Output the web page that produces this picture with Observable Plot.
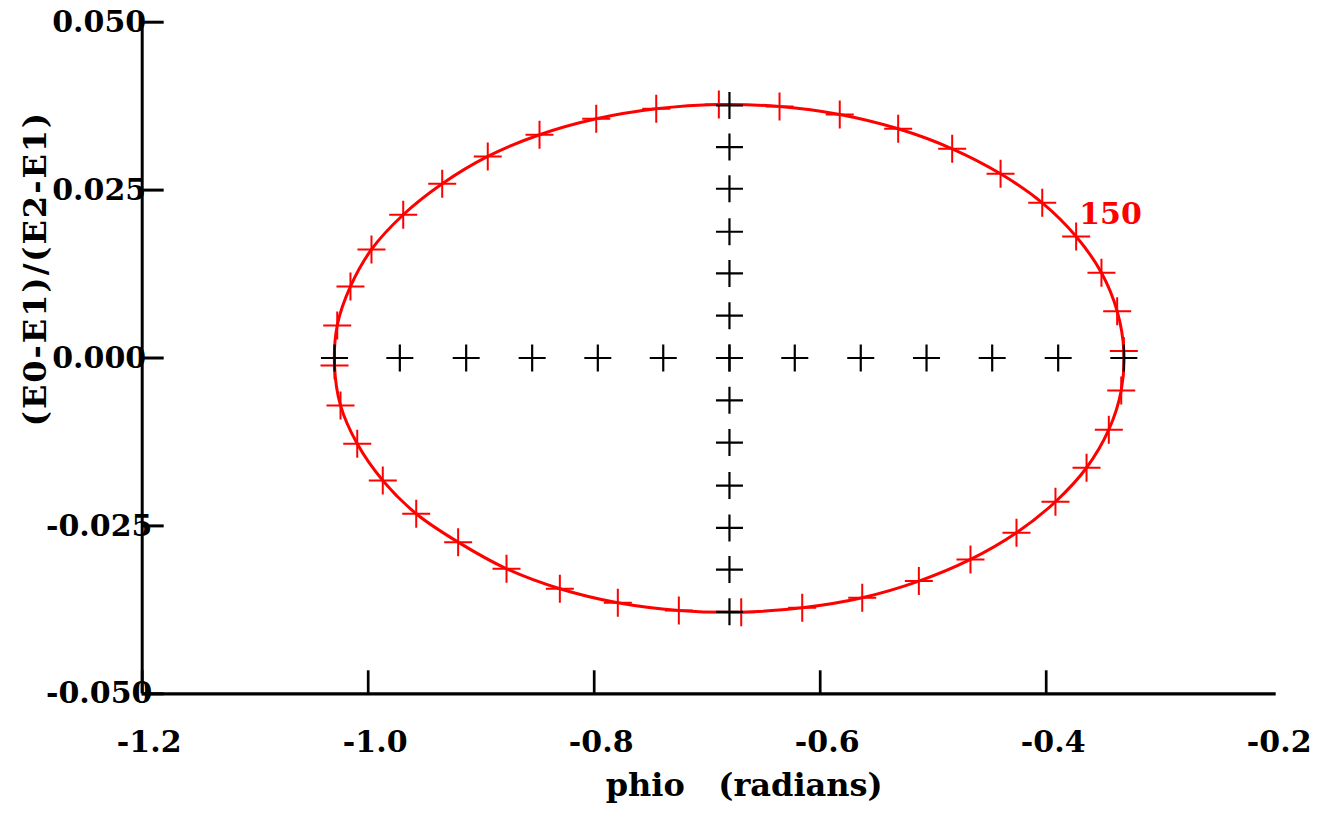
<!DOCTYPE html>
<html><head><meta charset="utf-8">
<script src="https://cdn.jsdelivr.net/npm/d3@7"></script>
<script src="https://cdn.jsdelivr.net/npm/@observablehq/plot@0.6"></script>
<style>
html,body{margin:0;padding:0;background:#fff;}
svg text{white-space:pre;}
svg g[aria-label="text"] text[transform*="rotate"]{letter-spacing:2px;}
</style></head><body><div id="chart"></div>
<script>
// ---- data ----
const xTicks = [-1.2, -1.0, -0.8, -0.6, -0.4, -0.2];
const xTickMarks = [-1.2, -1.0, -0.8, -0.6, -0.4];
const yTicks = [-0.05, -0.025, 0, 0.025, 0.05];

// red points around the closed curve (counter-clockwise from the top)
const redX = [-0.6897,-0.7451,-0.7982,-0.8484,-0.8942,-0.9345,-0.9690,-0.9971,-1.0157,-1.0274,
              -1.0298,-1.0245,-1.0097,-0.9871,-0.9575,-0.9204,-0.8776,-0.8304,-0.7791,-0.7251,
              -0.6699,-0.6159,-0.5628,-0.5127,-0.4670,-0.4263,-0.3918,-0.3643,-0.3446,-0.3336,
              -0.3313,-0.3372,-0.3511,-0.3735,-0.4035,-0.4404,-0.4832,-0.5310,-0.5827,-0.6360];
const redY = [0.03775,0.03711,0.03562,0.03324,0.03001,0.02594,0.02133,0.01616,0.01065,0.00485,
              -0.00111,-0.00706,-0.01277,-0.01823,-0.02319,-0.02742,-0.03138,-0.03435,-0.03644,-0.03758,
              -0.03784,-0.03718,-0.03569,-0.03322,-0.02999,-0.02602,-0.02140,-0.01634,-0.01068,-0.00483,
              0.00105,0.00697,0.01269,0.01810,0.02311,0.02743,0.03115,0.03413,0.03626,0.03745];

// black crosses: a horizontal row and a vertical column
const rowX = [-1.0298,-0.9720,-0.9133,-0.8549,-0.7968,-0.7389,-0.6803,-0.6225,-0.5641,-0.5059,-0.4478,-0.3894,-0.3313];
const rowY = 0;
const colX = -0.6803;
const colY = [0.0376,0.0314,0.0252,0.0188,0.0126,0.0063,0,-0.0063,-0.0126,-0.0190,-0.0253,-0.0315,-0.0378];

const labelIndex = 33;
const labelText = "150";
const xTitle = "phio   (radians)";
const yTitle = "(E0-E1)/(E2-E1)";

// ---- build ----
const redPts = redX.map((x, i) => ({x, y: redY[i]}));
const blackPts = rowX.map(x => ({x, y: rowY})).concat(colY.map(y => ({x: colX, y})));
const labelPts = [{x: redX[labelIndex], y: redY[labelIndex], t: labelText}];

const thinPlus = {
  draw(context, size) {
    const r = Math.sqrt(size / Math.PI);
    context.moveTo(-r, 0); context.lineTo(r, 0);
    context.moveTo(0, -r); context.lineTo(0, r);
  }
};

const font = "DejaVu Serif";
const chart = Plot.plot({
  width: 1321,
  height: 814,
  marginLeft: 141.7,
  marginRight: 49.3,
  marginTop: 21.7,
  marginBottom: 120.7,
  style: {fontFamily: font, fontSize: "30px", fontWeight: "bold", background: "#fff", color: "#000"},
  x: {domain: [-1.2, -0.2]},
  y: {domain: [-0.05, 0.05]},
  marks: [
    // axis lines
    Plot.ruleX([-1.2], {stroke: "#000", strokeWidth: 3}),
    Plot.ruleY([-0.05], {stroke: "#000", strokeWidth: 3.2, insetRight: -4}),
    // inward ticks
    Plot.axisY(yTicks, {tickSize: -22, fill: "none", stroke: "#000", strokeWidth: 3, label: null}),
    Plot.axisX(xTickMarks, {tickSize: -23, fill: "none", stroke: "#000", strokeWidth: 2.7, label: null}),
    // tick labels
    Plot.axisY(yTicks, {tickSize: 0, tickPadding: 43, textAnchor: "middle", tickFormat: d => d.toFixed(3),
      fontSize: 30, fontWeight: "bold", label: null}),
    Plot.axisX(xTicks, {tickSize: 0, tickPadding: 37, dx: 7, tickFormat: d => d.toFixed(1),
      fontSize: 30, fontWeight: "bold", label: null}),
    // titles
    Plot.text([xTitle], {frameAnchor: "bottom", text: d => d, dx: 37, dy: 102, lineAnchor: "bottom",
      textAnchor: "middle", fontSize: 32, fontWeight: "bold"}),
    Plot.text([yTitle], {frameAnchor: "left", text: d => d, rotate: -90, dx: -106.7, dy: -89.5,
      textAnchor: "middle", lineAnchor: "middle", fontSize: 32, fontWeight: "bold"}),
    // red curve + markers
    Plot.line(redPts, {x: "x", y: "y", curve: "catmull-rom-closed", stroke: "#ff0000", strokeWidth: 3}),
    Plot.dot(redPts, {x: "x", y: "y", symbol: thinPlus, r: 14, stroke: "#ff0000", fill: "none", strokeWidth: 2}),
    // black markers
    Plot.dot(blackPts, {x: "x", y: "y", symbol: thinPlus, r: 13.5, stroke: "#000", fill: "none", strokeWidth: 2.2}),
    // label
    Plot.text(labelPts, {x: "x", y: "y", text: "t", dx: 3, dy: -12, textAnchor: "start", lineAnchor: "bottom",
      fill: "#ff0000", fontSize: 30, fontWeight: "bold"})
  ]
});
document.getElementById("chart").appendChild(chart);
</script>
</body></html>
